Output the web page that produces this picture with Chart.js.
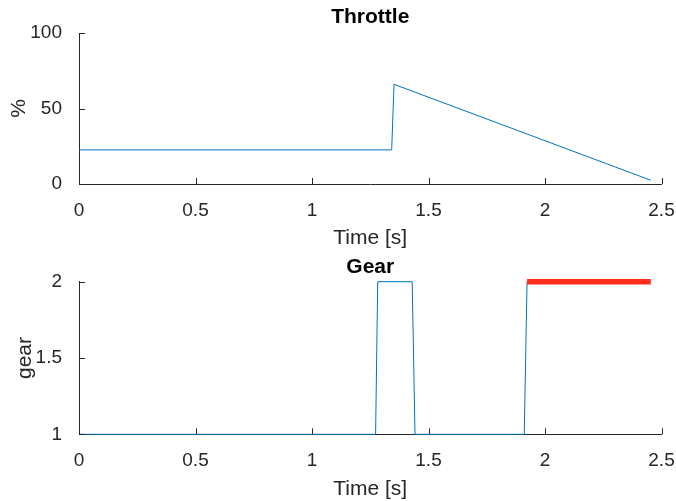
<!DOCTYPE html>
<html>
<head>
<meta charset="utf-8">
<script src="https://cdn.jsdelivr.net/npm/chart.js@4/dist/chart.umd.min.js"></script>
<style>
  body { margin: 0; background: #fff; }
  canvas { display: block; }
</style>
</head>
<body>
<canvas id="throttleChart" width="676" height="250"></canvas>
<canvas id="gearChart" width="676" height="251"></canvas>
<script>
// Throttle: sabit, ani sıçrama, sonra doğrusal düşüş
const throttleTime = [0, 1.342, 1.352, 2.454];
const throttleValue = [22.6, 22.6, 66.0, 2.5];

// Vites: mavi sinyal ve kırmızı hedef çizgi
const gearTime = [0, 1.273, 1.282, 1.430, 1.442, 1.911, 1.923, 2.454];
const gearValue = [1, 1, 2, 2, 1, 1, 2, 2];
const targetTime = [1.923, 2.454];
const targetGear = [2, 2];

const timeTicks = [0, 0.5, 1, 1.5, 2, 2.5];
const throttleTicks = [0, 50, 100];
const gearTicks = [1, 1.5, 2];

const axisColor = '#262626';
const fontFamily = "'Liberation Sans', Arial, Helvetica, sans-serif";

const toPoints = (xs, ys) => xs.map((x, i) => ({ x: x, y: ys[i] }));
// "1.0" yerine "1" yaz
const fmt = v => String(+Number(v).toFixed(2));

// MATLAB tarzı içe bakan tik çizgileri
const innerTicks = {
    id: 'innerTicks',
    afterDraw(chart) {
        const ctx = chart.ctx;
        const area = chart.chartArea;
        const xs = chart.scales.x;
        const ys = chart.scales.y;
        ctx.save();
        ctx.strokeStyle = axisColor;
        ctx.lineWidth = 1;
        ctx.beginPath();
        xs.ticks.forEach(t => {
            const px = Math.round(xs.getPixelForValue(t.value)) + 0.5;
            ctx.moveTo(px, area.bottom);
            ctx.lineTo(px, area.bottom - 6);
        });
        ys.ticks.forEach(t => {
            const py = Math.round(ys.getPixelForValue(t.value)) + 0.5;
            ctx.moveTo(area.left, py);
            ctx.lineTo(area.left + 6, py);
        });
        ctx.stroke();
        ctx.restore();
    }
};

function makeChart(id, cfg) {
    return new Chart(document.getElementById(id), {
        type: 'line',
        data: { datasets: cfg.datasets },
        options: {
            responsive: false,
            animation: false,
            layout: { padding: { left: 0, right: 14.5, top: 0, bottom: 0 } },
            elements: { point: { radius: 0 }, line: { tension: 0 } },
            plugins: {
                legend: { display: false },
                tooltip: { enabled: false },
                title: {
                    display: true,
                    text: cfg.title,
                    fullSize: false,
                    color: '#000',
                    font: { family: fontFamily, size: 21, weight: 'bold' },
                    padding: cfg.titlePadding
                }
            },
            scales: {
                x: {
                    type: 'linear',
                    min: 0, max: 2.5,
                    afterBuildTicks: s => { s.ticks = timeTicks.map(v => ({ value: v })); },
                    afterFit: s => { s.height = cfg.xHeight; s.paddingLeft = 0; s.paddingRight = 0; },
                    grid: { display: false },
                    border: { display: true, color: axisColor, width: 1 },
                    ticks: { color: axisColor, padding: 7, maxRotation: 0, callback: fmt, font: { family: fontFamily, size: 19 } },
                    title: {
                        display: true, text: 'Time [s]', color: axisColor,
                        padding: { top: 0, bottom: cfg.xTitlePad },
                        font: { family: fontFamily, size: 21 }
                    }
                },
                y: {
                    min: cfg.yMin, max: cfg.yMax,
                    afterBuildTicks: s => { s.ticks = cfg.yTicks.map(v => ({ value: v })); },
                    afterFit: s => { s.width = 79; s.paddingTop = 0; s.paddingBottom = 0; },
                    grid: { display: false },
                    border: { display: true, color: axisColor, width: 1 },
                    ticks: { color: axisColor, padding: 9, callback: fmt, font: { family: fontFamily, size: 19 } },
                    title: {
                        display: true, text: cfg.yLabel, color: axisColor,
                        padding: { top: cfg.yTitlePad, bottom: 0 },
                        font: { family: fontFamily, size: 21 }
                    }
                }
            }
        },
        plugins: [innerTicks]
    });
}

makeChart('throttleChart', {
    title: 'Throttle',
    titlePadding: { top: 4.6, bottom: 3.2 },
    xHeight: 66,
    xTitlePad: -1,
    yMin: 0, yMax: 100,
    yTicks: throttleTicks,
    yLabel: '%',
    yTitlePad: 6.5,
    datasets: [{
        data: toPoints(throttleTime, throttleValue),
        borderColor: '#0072bd',
        borderWidth: 1,
        clip: false
    }]
});

makeChart('gearChart', {
    title: 'Gear',
    titlePadding: { top: 5, bottom: 1.5 },
    xHeight: 66.7,
    xTitlePad: -0.7,
    yMin: 1, yMax: 2,
    yTicks: gearTicks,
    yLabel: 'gear',
    yTitlePad: 13,
    datasets: [{
        // hedef vites (üstte çizilir)
        data: toPoints(targetTime, targetGear),
        borderColor: '#ff2d1a',
        borderWidth: 5.5,
        borderCapStyle: 'butt',
        clip: false
    }, {
        data: toPoints(gearTime, gearValue),
        borderColor: '#0072bd',
        borderWidth: 1,
        clip: false
    }]
});
</script>
</body>
</html>
